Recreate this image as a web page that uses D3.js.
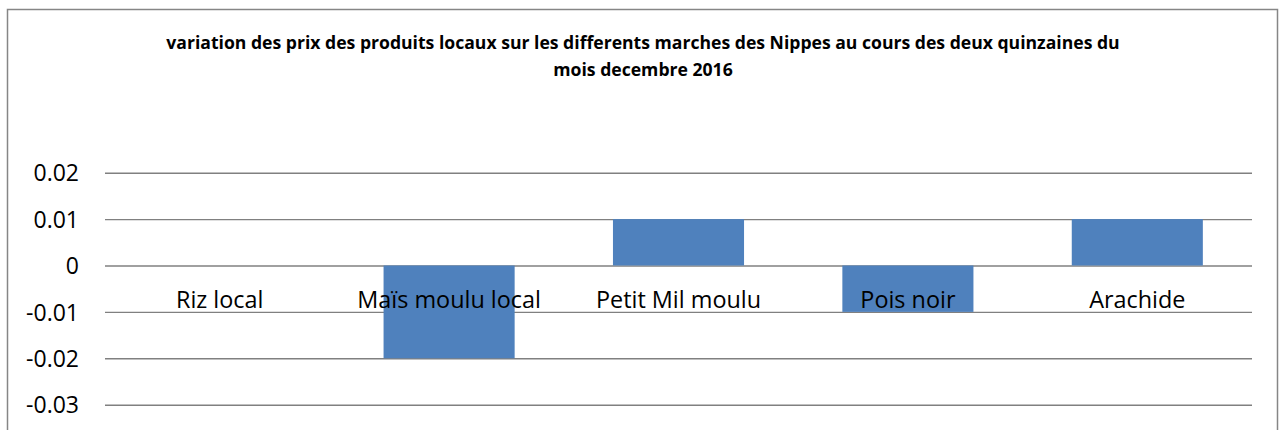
<!DOCTYPE html>
<html>
<head>
<meta charset="utf-8">
<script src="https://cdn.jsdelivr.net/npm/d3@7"></script>
<style>
  html, body { margin: 0; padding: 0; background: #fff; }
  svg { display: block; font-family: "Open Sans", sans-serif; }
</style>
</head>
<body>
<svg id="chart" width="1281" height="430"></svg>
<script>
const categories = ["Riz local", "Maïs moulu local", "Petit Mil moulu", "Pois noir", "Arachide"];
const values = [0, -0.02, 0.01, -0.01, 0.01];
const yTicks = [0.02, 0.01, 0, -0.01, -0.02, -0.03];
const tickLabels = ["0.02", "0.01", "0", "-0.01", "-0.02", "-0.03"];
const titleLines = [
  "variation des prix des produits locaux sur les differents marches des Nippes au cours des deux quinzaines du",
  "mois decembre 2016"
];

const svg = d3.select("#chart");
const margin = { left: 105, right: 1252, top: 172.7, bottom: 404.7 };

// outer border
svg.append("rect")
  .attr("x", 7.5).attr("y", 9.5)
  .attr("width", 1270).attr("height", 440)
  .attr("fill", "#fff")
  .attr("stroke", "#868686").attr("stroke-width", 1.5);

const x = d3.scaleBand().domain(categories)
  .range([margin.left, margin.right])
  .paddingInner(0.4286).paddingOuter(0.2143);
const y = d3.scaleLinear().domain([-0.03, 0.02]).range([margin.bottom, margin.top]);

// gridlines via axis
const yAxis = d3.axisLeft(y).tickValues(yTicks)
  .tickSize(-(margin.right - margin.left))
  .tickFormat((d, i) => tickLabels[i]);
const gy = svg.append("g").attr("transform", `translate(${margin.left},0)`).call(yAxis);
gy.select(".domain").remove();
gy.selectAll(".tick line").attr("stroke", "#808080").attr("stroke-width", 1.4);
gy.selectAll(".tick text")
  .attr("x", -26).attr("dy", "0.36em")
  .attr("fill", "#000")
  .style("font-size", "23px")
  .style("font-family", "'Open Sans', sans-serif");

// bars
svg.append("g").selectAll("rect").data(categories).join("rect")
  .attr("x", d => x(d))
  .attr("width", x.bandwidth())
  .attr("y", (d, i) => y(Math.max(0, values[i])))
  .attr("height", (d, i) => Math.abs(y(values[i]) - y(0)))
  .attr("fill", "#4F81BD");

// category labels (axis at zero)
const xAxis = d3.axisBottom(x).tickSize(0).tickPadding(0);
const gx = svg.append("g").attr("transform", `translate(0,${y(0)})`).call(xAxis);
gx.select(".domain").remove();
gx.selectAll(".tick text")
  .attr("y", 0).attr("dy", 42)
  .attr("fill", "#000")
  .style("font-size", "23.4px")
  .style("font-family", "'Open Sans', sans-serif");

// title
const title = svg.append("text")
  .attr("text-anchor", "middle")
  .attr("font-weight", "bold")
  .attr("fill", "#000")
  .style("font-size", "17.6px");
title.selectAll("tspan").data(titleLines).join("tspan")
  .attr("x", 643)
  .attr("y", (d, i) => 49 + i * 27)
  .text(d => d);
</script>
</body>
</html>
